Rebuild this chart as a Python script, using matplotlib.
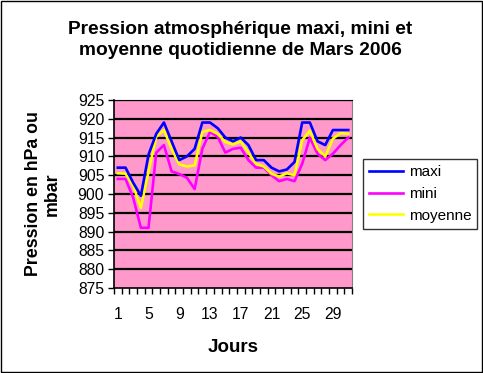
import numpy as np
import matplotlib
matplotlib.use('Agg')
from matplotlib import pyplot as plt
from matplotlib.patches import Rectangle

plt.rcParams['font.family'] = ['Liberation Sans', 'DejaVu Sans']

days = list(range(1, 32))
maxi = [907, 907, 903, 899.5, 910.5, 916, 919, 914, 909, 910, 912, 919, 919, 917.5, 915,
        914, 915, 913, 909, 909, 907, 906, 906.5, 908.5, 919, 919, 914, 913, 917, 917, 917]
mini = [904, 904, 899, 891, 891, 911, 913, 906, 905.3, 904.3, 901.3, 912, 916.5, 915.2, 911,
        912, 912.3, 909, 907, 907, 905, 903.4, 904, 903.4, 908, 915, 910.7, 909, 910.7, 913, 915]
moyenne = [905.5, 905.4, 902.2, 896.3, 906, 915.2, 917, 912, 907.9, 907.3, 907.6, 916.5, 917, 916,
           913.8, 913.2, 914, 911, 908, 907.3, 905.4, 904.6, 905.5, 905, 914.3, 916.8, 912, 910,
           914.7, 916.2, 916]
day_labels = [1, 5, 9, 13, 17, 21, 25, 29]

fig = plt.figure(figsize=(4.83, 3.73), dpi=100)
fig.patches.append(Rectangle((0.002, 0.003), 0.995, 0.994, transform=fig.transFigure,
                             fill=False, edgecolor='black', linewidth=1))
ax = fig.add_axes([0.236, 0.228, 0.493, 0.504])
ax.set_facecolor('#FF99CC')

for v in range(880, 930, 5):
    ax.axhline(v, color='black', linewidth=1.6, zorder=1)

ax.plot(days, maxi, color='#0000FF', linewidth=1.9, label='maxi', zorder=4)
ax.plot(days, mini, color='#FF00FF', linewidth=1.9, label='mini', zorder=2)
ax.plot(days, moyenne, color='#FFFF00', linewidth=1.9, label='moyenne', zorder=3)

ax.set_xlim(0.5, 31.5)
ax.set_ylim(875, 925)
ax.set_yticks(range(875, 930, 5))
ax.tick_params(axis='y', labelsize=11.3, length=4, width=1, pad=3)
ax.set_xticks(np.arange(0.5, 32, 1))
ax.set_xticklabels([])
ax.tick_params(axis='x', which='major', length=4, width=1)
ax.set_xticks(day_labels, minor=True)
ax.set_xticklabels([str(d) for d in day_labels], minor=True)
ax.tick_params(axis='x', which='minor', length=0, labelsize=11.3, pad=14)

for s in ['left', 'bottom']:
    ax.spines[s].set_color('black')
    ax.spines[s].set_linewidth(1.2)
ax.spines['top'].set_color('black')
ax.spines['right'].set_color('#808080')

ax.set_xlabel('Jours', fontsize=13.5, fontweight='bold', labelpad=12)
fig.text(0.088, 0.48, 'Pression en hPa ou\nmbar', rotation=90, ha='center', va='center',
         fontsize=12.8, fontweight='bold', linespacing=1.15)
fig.text(0.497, 0.893, 'Pression atmosphérique maxi, mini et\nmoyenne quotidienne de Mars 2006',
         ha='center', va='center', fontsize=13.8, fontweight='bold', linespacing=1.25)

leg = ax.legend(loc='center left', bbox_to_anchor=(1.045, 0.5), frameon=True, fancybox=False,
                edgecolor='black', fontsize=11, handlelength=2.2, handletextpad=0.4,
                borderaxespad=0, labelspacing=0.5, borderpad=0.4)
leg.get_frame().set_linewidth(1)

plt.savefig('out.png', dpi=100)
